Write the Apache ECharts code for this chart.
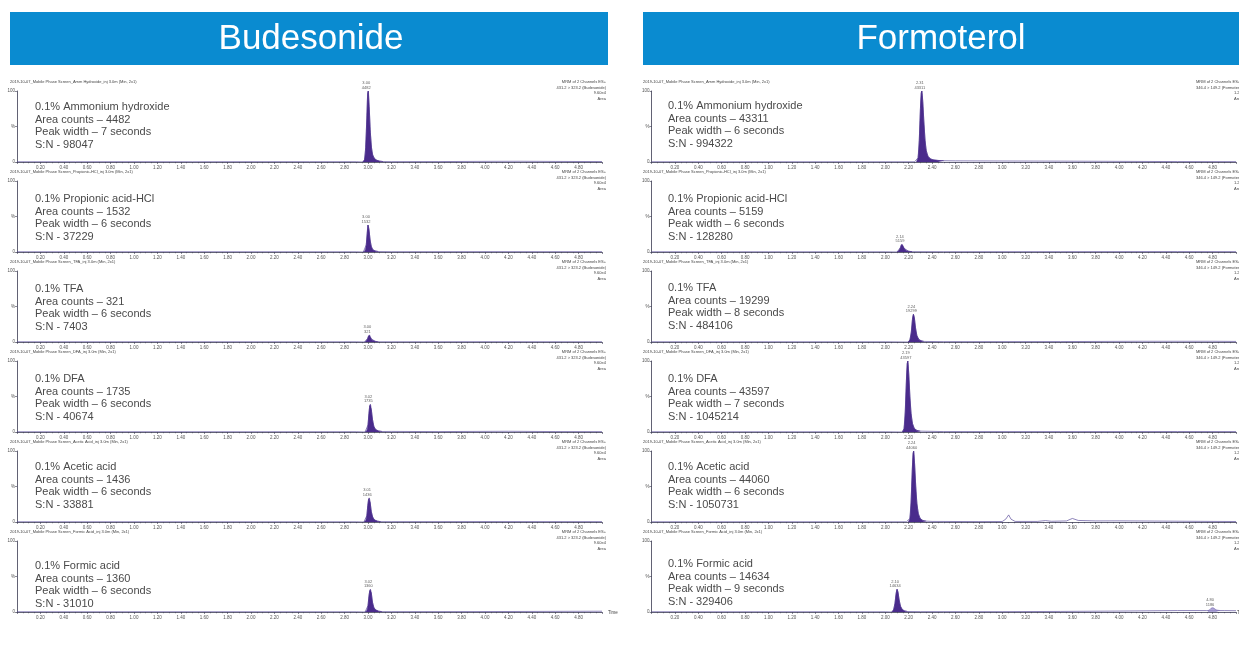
<!DOCTYPE html>
<html><head><meta charset="utf-8">
<script src="https://cdn.jsdelivr.net/npm/echarts/dist/echarts.min.js"></script>
<style>html,body{margin:0;padding:0;background:#fff}#c{width:1239px;height:660px}</style>
</head><body><div id="c"></div><script>
// ---------------- DATA ----------------
const panelTitles = ['Budesonide', 'Formoterol'];
const conditions = ['0.1% Ammonium hydroxide', '0.1% Propionic acid-HCl', '0.1% TFA', '0.1% DFA', '0.1% Acetic acid', '0.1% Formic acid'];
const fileTags = ['Amm Hydroxide', 'Propionic-HCl', 'TFA', 'DFA', 'Acetic Acid', 'Formic Acid'];
const budArea = [4482, 1532, 321, 1735, 1436, 1360];
const budWidth = [7, 6, 6, 6, 6, 6];
const budSN = [98047, 37229, 7403, 40674, 33881, 31010];
const budRT = ['3.00', '3.00', '3.00', '3.02', '3.01', '3.02'];
const forArea = [43311, 5159, 19299, 43597, 44060, 14634];
const forWidth = [6, 6, 8, 7, 6, 9];
const forSN = [994322, 128280, 484106, 1045214, 1050731, 329406];
const forRT = ['2.31', '2.14', '2.24', '2.19', '2.24', '2.10'];
const budChannel = ['MRM of 2 Channels ES+', '431.2 > 323.2 (Budesonide)', '9.60e4', 'Area'];
const forChannel = ['MRM of 2 Channels ES+', '346.4 > 149.2 (Formoterol)', '1.20e6', 'Area'];

// Budesonide traces (time min, % intensity)
const budPeak1 = [[2.955,0],[2.97,3],[2.98,20],[2.99,62],[2.997,96],[3.002,100],[3.01,78],[3.02,42],[3.03,20],[3.04,10],[3.055,5],[3.075,2.5],[3.10,1.2],[3.13,0.6]];
const budBase1 = [[0,0.3],[0.5,0.3],[1.0,0.4],[1.5,0.3],[2.0,0.4],[2.5,0.4],[2.9,0.4],[3.2,0.5],[3.6,0.6],[4.0,0.9],[4.3,1.0],[4.6,0.8],[5.0,0.6]];
const budPeak2 = [[2.96,0],[2.975,2],[2.985,10],[2.993,26],[3.0,38],[3.008,32],[3.018,17],[3.028,8],[3.04,3.5],[3.06,1.5],[3.09,0.6]];
const budBase2 = [[0,0.3],[1.0,0.3],[2.0,0.3],[2.9,0.3],[3.2,0.4],[4.0,0.5],[5.0,0.4]];
const budPeak3 = [[2.97,0],[2.985,1.5],[2.997,5],[3.005,8.5],[3.012,10],[3.02,7.5],[3.03,4],[3.045,2],[3.065,0.8],[3.09,0.3]];
const budBase3 = [[0,0.3],[1.0,0.3],[2.0,0.3],[2.9,0.3],[3.2,0.3],[4.0,0.4],[5.0,0.3]];
const budPeak4 = [[2.975,0],[2.99,2],[3.0,10],[3.008,26],[3.015,37],[3.02,39],[3.028,32],[3.038,18],[3.05,8],[3.065,3.5],[3.09,1.5],[3.12,0.7]];
const budBase4 = [[0,0.3],[1.0,0.3],[2.0,0.3],[2.9,0.4],[3.2,0.8],[3.6,0.6],[4.2,1.0],[4.6,0.6],[5.0,0.5]];
const budPeak5 = [[2.965,0],[2.98,2],[2.99,9],[2.998,23],[3.005,32],[3.01,34],[3.018,28],[3.028,15],[3.04,7],[3.055,3],[3.08,1.2],[3.11,0.5]];
const budBase5 = [[0,0.3],[1.0,0.3],[2.0,0.3],[2.9,0.3],[3.2,0.5],[4.0,0.6],[5.0,0.5]];
const budPeak6 = [[2.975,0],[2.99,2],[3.0,9],[3.008,22],[3.015,30],[3.02,32],[3.028,27],[3.038,14],[3.05,6.5],[3.065,3],[3.09,1.2],[3.12,0.5]];
const budBase6 = [[0,0.3],[1.0,0.3],[2.0,0.3],[2.9,0.3],[3.2,0.5],[4.0,0.6],[4.6,0.9],[5.0,1.1]];

// Formoterol traces
const forPeak1 = [[2.265,0],[2.28,6],[2.29,30],[2.30,75],[2.307,97],[2.312,100],[2.32,85],[2.33,55],[2.34,30],[2.35,16],[2.365,8],[2.385,4.5],[2.41,3],[2.45,2.2],[2.5,1.8]];
const forBase1 = [[0,0.3],[1.0,0.3],[2.0,0.3],[2.25,0.3],[2.6,1.6],[3.0,1.4],[3.5,1.2],[4.0,0.9],[4.5,0.6],[5.0,0.5]];
const forPeak2 = [[2.10,0],[2.115,2],[2.128,6],[2.137,10],[2.142,11],[2.15,9],[2.162,5],[2.178,2.2],[2.2,1],[2.23,0.5]];
const forBase2 = [[0,0.3],[1.0,0.3],[2.0,0.3],[2.5,0.4],[3.5,0.5],[4.5,0.6],[5.0,0.5]];
const forPeak3 = [[2.195,0],[2.21,3],[2.222,14],[2.232,32],[2.24,39],[2.248,34],[2.258,20],[2.27,9],[2.285,4],[2.305,1.8],[2.33,0.8]];
const forBase3 = [[0,0.3],[1.0,0.3],[2.0,0.3],[2.5,0.5],[3.5,0.6],[4.2,1.0],[4.8,1.0],[5.0,0.8]];
const forPeak4 = [[2.145,0],[2.16,5],[2.17,28],[2.18,72],[2.187,96],[2.192,100],[2.2,82],[2.21,50],[2.22,26],[2.232,12],[2.248,5],[2.27,2.2],[2.3,1.2]];
const forBase4 = [[0,0.3],[1.0,0.3],[2.0,0.3],[2.5,0.6],[3.5,0.6],[4.5,0.7],[5.0,0.6]];
const forPeak5 = [[2.195,0],[2.21,5],[2.22,28],[2.23,72],[2.237,96],[2.242,100],[2.25,82],[2.26,50],[2.27,26],[2.282,12],[2.298,5],[2.32,2.2],[2.35,1.2]];
const forBase5 = [[0,0.3],[1.0,0.3],[2.0,0.3],[2.18,0.3],[2.4,0.8],[2.8,0.6],[3.0,0.7],[3.03,4],[3.055,10],[3.075,4],[3.11,0.8],[3.3,0.8],[3.37,2],[3.42,1],[3.55,1.5],[3.6,5],[3.65,2.2],[3.8,1.5],[4.0,1.6],[4.3,1.3],[4.7,0.9],[5.0,0.7]];
const forPeak6 = [[2.055,0],[2.07,3],[2.082,12],[2.092,26],[2.1,32],[2.108,28],[2.118,17],[2.13,8],[2.145,3.5],[2.165,1.5],[2.19,0.7]];
const forPeak6b = [[4.76,1.8],[4.78,4],[4.795,6],[4.81,5.5],[4.83,3],[4.86,2.2]];
const forBase6 = [[0,0.3],[1.0,0.3],[2.0,0.3],[2.3,0.5],[3.0,0.5],[3.5,0.8],[4.0,1.3],[4.5,2.0],[4.75,2.0],[4.9,2.0],[5.0,1.8]];
const forMinorLabel = '4.80\n1186';

const budPeaks = [budPeak1, budPeak2, budPeak3, budPeak4, budPeak5, budPeak6];
const budBases = [budBase1, budBase2, budBase3, budBase4, budBase5, budBase6];
const forPeaks = [forPeak1, forPeak2, forPeak3, forPeak4, forPeak5, forPeak6];
const forBases = [forBase1, forBase2, forBase3, forBase4, forBase5, forBase6];
const annotTopBud = [107, 199, 289, 379, 467, 566];
const annotTopFor = [106, 199, 288, 379, 467, 564];

// ---------------- LAYOUT ----------------
const panelLeft = [17, 651.6];
const plotW = 585;
const chartTop = [91, 181, 271, 361, 451, 541];
const chartH = 71;
const FONT = '"Liberation Sans", Arial, sans-serif';
const purple = '#4a2b8c';

const grid = [], xAxis = [], yAxis = [], series = [], graphic = [];

function merge(a, b) { return a.concat(b).sort((p, q) => p[0] - q[0]); }
function peakMax(arr) { let m = arr[0]; arr.forEach(p => { if (p[1] > m[1]) m = p; }); return m; }

panelTitles.forEach((title, pi) => {
  const peaks = pi === 0 ? budPeaks : forPeaks;
  const bases = pi === 0 ? budBases : forBases;
  const areas = pi === 0 ? budArea : forArea;
  const widths = pi === 0 ? budWidth : forWidth;
  const sns = pi === 0 ? budSN : forSN;
  const rts = pi === 0 ? budRT : forRT;
  const chan = pi === 0 ? budChannel : forChannel;
  const annY = pi === 0 ? annotTopBud : annotTopFor;
  const L = panelLeft[pi];
  // title bar
  const barX = pi === 0 ? 10 : 643, barW = pi === 0 ? 598 : 600;
  graphic.push({ type: 'rect', shape: { x: barX, y: 12, width: barW, height: 53 }, style: { fill: '#0a8bd0' }, z: 1 });
  graphic.push({ type: 'text', x: barX + (pi === 0 ? 301 : 298), y: 39, style: { text: title, fill: '#ffffff', fontSize: 35, fontFamily: FONT, textAlign: 'center', textVerticalAlign: 'middle' }, z: 2 });

  for (let ci = 0; ci < 6; ci++) {
    const idx = pi * 6 + ci;
    const top = chartTop[ci];
    grid.push({ left: L, top: top, width: plotW, height: chartH, containLabel: false });
    xAxis.push({
      type: 'value', gridIndex: idx, min: 0, max: 5, interval: 0.2,
      axisLine: { lineStyle: { color: '#3a3a50', width: 0.8 } },
      axisTick: { length: 2, lineStyle: { color: '#3a3a50', width: 0.6 } },
      minorTick: { show: true, splitNumber: 4, length: 1.3, lineStyle: { color: '#3a3a50', width: 0.5 } },
      splitLine: { show: false },
      axisLabel: { fontSize: 4.5, color: '#555', margin: 3, fontFamily: FONT,
        formatter: v => (v < 0.1 || v > 4.85) ? '' : v.toFixed(2) }
    });
    yAxis.push({
      type: 'value', gridIndex: idx, min: 0, max: 100, interval: 50,
      axisLine: { show: true, lineStyle: { color: '#3a3a50', width: 0.8 } },
      axisTick: { show: true, length: 2, lineStyle: { color: '#3a3a50', width: 0.6 } },
      splitLine: { show: false },
      axisLabel: { fontSize: 4.5, color: '#555', margin: 2, fontFamily: FONT,
        formatter: v => v === 0 ? '0' : (v === 50 ? '%' : '100') }
    });
    const peak = peaks[ci];
    const base = bases[ci];
    series.push({ type: 'line', xAxisIndex: idx, yAxisIndex: idx, data: merge(base, peak), symbol: 'none',
      lineStyle: { color: '#5d4f9c', width: 0.7 }, silent: true, z: 2 });
    series.push({ type: 'line', xAxisIndex: idx, yAxisIndex: idx, data: peak, symbol: 'none', smooth: 0.25,
      lineStyle: { color: purple, width: 0.6 }, areaStyle: { color: purple, opacity: 1 }, silent: true, z: 3 });
    const m = peakMax(peak);
    const lbls = [[m[0], m[1], rts[ci] + '\n' + areas[ci]]];
    if (pi === 1 && ci === 5) {
      series.push({ type: 'line', xAxisIndex: idx, yAxisIndex: idx, data: forPeak6b, symbol: 'none', smooth: 0.3,
        lineStyle: { color: '#7466b0', width: 0.6 }, areaStyle: { color: '#9a8fcc', opacity: 0.8 }, silent: true, z: 3 });
      const m2 = peakMax(forPeak6b);
      lbls.push([m2[0], m2[1], forMinorLabel]);
    }
    series.push({ type: 'scatter', xAxisIndex: idx, yAxisIndex: idx, data: lbls, symbolSize: 0, silent: true, clip: false, z: 5,
      label: { show: true, position: 'top', distance: 1, offset: [-2, 0], fontSize: 4, lineHeight: 4.5, color: '#333', fontFamily: FONT,
        formatter: p => p.value[2] } });

    graphic.push({ type: 'text', x: pi === 0 ? 10 : 643, y: top - 9, style: { text: '2019-10-07_Mobile Phase Screen_' + fileTags[ci] + '_inj 3.0m (Min, 2x1)', fill: '#444', fontSize: 4, fontFamily: FONT, textVerticalAlign: 'middle' } });
    chan.forEach((t, k) => {
      graphic.push({ type: 'text', x: pi === 0 ? 606 : (k < 2 ? 1196 : 1234), y: top - 9 + k * 5.5, style: { text: t, fill: '#444', fontSize: 4, fontFamily: FONT, textAlign: pi === 0 ? 'right' : 'left', textVerticalAlign: 'middle' } });
    });
    const lines = [conditions[ci], 'Area counts \u2013 ' + areas[ci], 'Peak width \u2013 ' + widths[ci] + ' seconds', 'S:N - ' + sns[ci]];
    lines.forEach((t, k) => {
      graphic.push({ type: 'text', x: pi === 0 ? 35 : 668, y: annY[ci] + k * 12.6, style: { text: t, fill: '#4a4a4a', fontSize: 11, fontFamily: FONT, textVerticalAlign: 'middle' } });
    });
  }
});
graphic.push({ type: 'text', x: 608, y: 613, style: { text: 'Time', fill: '#444', fontSize: 4.5, fontFamily: FONT, textVerticalAlign: 'middle' } });
graphic.push({ type: 'text', x: 1237, y: 613, style: { text: 'Time', fill: '#444', fontSize: 4.5, fontFamily: FONT, textVerticalAlign: 'middle' } });

const chart = echarts.init(document.getElementById('c'), null, { renderer: 'canvas' });
chart.setOption({ animation: false, backgroundColor: '#ffffff', grid, xAxis, yAxis, series, graphic });
</script></body></html>
